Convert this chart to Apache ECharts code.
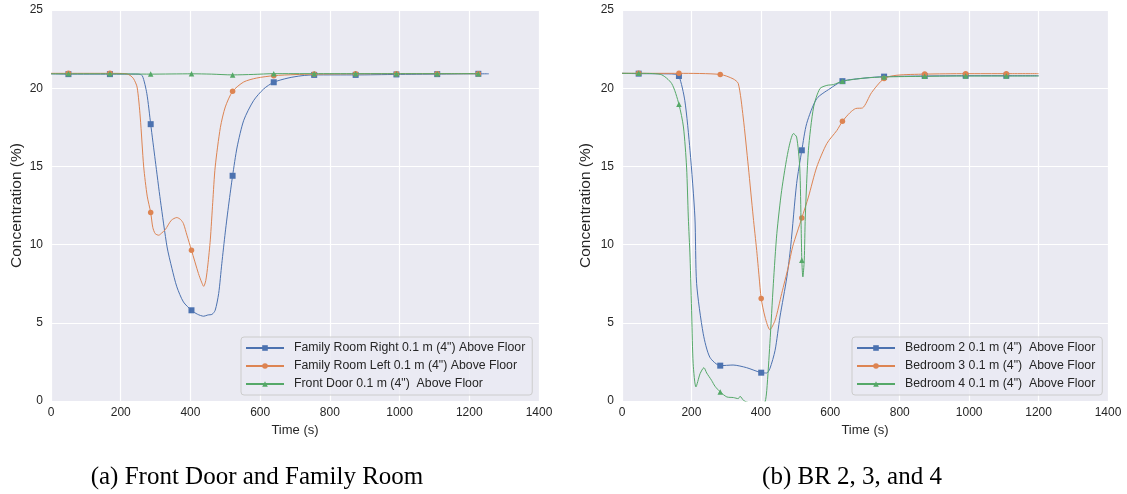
<!DOCTYPE html>
<html>
<head>
<meta charset="utf-8">
<script src="https://cdn.jsdelivr.net/npm/echarts@6/dist/echarts.min.js"></script>
<style>
html,body{margin:0;padding:0;background:#fff;}
#c{width:1127px;height:494px;}
</style>
</head>
<body>
<div id="c"></div>
<script>
// ---------- data ----------
const xTicks = [0, 200, 400, 600, 800, 1000, 1200, 1400];
const yTicks = [0, 5, 10, 15, 20, 25];

const namesA = ['Family Room Right 0.1 m (4") Above Floor', 'Family Room Left 0.1 m (4") Above Floor', 'Front Door 0.1 m (4")  Above Floor'];
const namesB = ['Bedroom 2 0.1 m (4")  Above Floor', 'Bedroom 3 0.1 m (4")  Above Floor', 'Bedroom 4 0.1 m (4")  Above Floor'];

const markersA = [50, 169, 286, 403, 521, 639, 755, 874, 991, 1108, 1226];
const markersB = [48, 164, 283, 401, 518, 635, 755, 872, 990, 1107];

// (a) Family Room Right
const famRight = [[0,20.92],[50,20.9],[169,20.9],[250,20.9],[262,20.8],[275,19.65],[286,17.7],[299,15.4],[314,12.8],[333,9.85],[347,8.47],[361,7.3],[380,6.33],[403,5.8],[420,5.55],[438,5.42],[450,5.5],[462,5.54],[471,5.8],[481,6.87],[490,8.78],[500,10.8],[510,12.6],[521,14.4],[534,16.24],[553,17.95],[581,19.2],[610,19.95],[639,20.38],[680,20.65],[720,20.8],[755,20.85],[874,20.85],[991,20.88],[1108,20.9],[1226,20.92],[1256,20.92]];
// (a) Family Room Left
const famLeft = [[0,20.95],[50,20.95],[169,20.95],[215,20.93],[227,20.82],[237,20.6],[247,20.07],[256,18.16],[266,14.96],[276,13.1],[286,12.05],[292,11.1],[299,10.7],[309,10.6],[318,10.75],[328,10.96],[345,11.55],[361,11.73],[372,11.6],[380,11.34],[390,10.6],[403,9.64],[423,8.15],[432,7.6],[438,7.33],[444,7.7],[450,8.7],[457,10.3],[464,12.7],[471,14.96],[486,17.5],[500,18.8],[521,19.8],[553,20.4],[590,20.65],[639,20.8],[700,20.87],[755,20.9],[874,20.92],[991,20.93],[1108,20.93],[1226,20.93]];
// (a) Front Door
const frontDoor = [[0,20.92],[50,20.92],[169,20.92],[286,20.9],[403,20.92],[460,20.9],[521,20.85],[580,20.88],[639,20.93],[755,20.93],[874,20.93],[991,20.93],[1108,20.93],[1226,20.93]];

// (b) Bedroom 2
const bed2 = [[0,20.95],[48,20.93],[120,20.92],[150,20.9],[164,20.78],[181,19.2],[196,16.0],[210,11.76],[215,7.5],[234,4.3],[253,2.8],[283,2.26],[320,2.3],[359,2.13],[401,1.81],[417,1.79],[426,2.07],[441,3.24],[455,5.37],[475,7.93],[486,9.9],[503,13.9],[518,16.03],[532,17.74],[561,19.33],[599,19.97],[635,20.45],[700,20.65],[755,20.74],[872,20.78],[990,20.8],[1107,20.8],[1200,20.8]];
// (b) Bedroom 3
const bed3 = [[0,20.95],[48,20.95],[164,20.95],[283,20.88],[320,20.6],[335,20.3],[349,18.16],[364,14.96],[378,11.76],[388,9.63],[395,7.93],[401,6.55],[412,5.37],[426,4.56],[441,5.16],[460,6.87],[479,8.57],[492,9.9],[518,11.7],[537,13.04],[561,14.96],[590,16.46],[619,17.3],[635,17.88],[657,18.44],[673,18.7],[693,18.74],[719,19.72],[755,20.62],[792,20.83],[872,20.9],[990,20.93],[1107,20.93],[1200,20.93]];
// (b) Bedroom 4
const bed4 = [[0,20.95],[48,20.95],[110,20.89],[143,20.3],[164,18.97],[177,17.52],[186,14.96],[191,11.76],[196,9.2],[201,5.37],[205,2.39],[213,0.9],[225,1.75],[236,2.13],[244,1.79],[258,1.32],[268,0.94],[283,0.58],[302,0.26],[321,0.22],[335,0.15],[340,0.3],[350,0.04],[359,-0.06],[401,-0.3],[412,-0.06],[417,0.68],[426,3.67],[436,7.5],[446,10.7],[460,13.47],[479,16.03],[494,17.1],[503,16.88],[512,14.96],[516,11.2],[518,9.0],[521,7.93],[525,9.0],[528,11.76],[537,16.03],[552,18.8],[570,19.97],[590,20.18],[609,20.23],[635,20.45],[700,20.65],[755,20.72],[872,20.76],[990,20.78],[1107,20.78],[1200,20.78]];

// ---------- chart ----------
const colors = ['#4C72B0', '#DD8452', '#55A868'];
const symbols = ['rect', 'circle', 'triangle'];
const symSizes = [6, 5.5, 5.5];
const textColor = '#262626';
const fontFam = '"Liberation Sans", Arial, sans-serif';

function mk(points, markers) {
  return points.map(p => markers.indexOf(p[0]) >= 0 ? { value: p } : { value: p, symbol: 'none' });
}

function series(name, pts, markers, i, axis) {
  return {
    type: 'line', name: name, xAxisIndex: axis, yAxisIndex: axis,
    data: mk(pts, markers),
    smooth: 0.25,
    showSymbol: true, symbol: symbols[i], symbolSize: symSizes[i],
    lineStyle: { color: colors[i], width: 1 },
    itemStyle: { color: colors[i] },
    clip: true, animation: false, z: 2 + i
  };
}

const grids = [
  { left: 51, top: 10, width: 488, height: 391 },
  { left: 622, top: 10, width: 486, height: 391 }
].map(g => Object.assign(g, { show: true, backgroundColor: '#EAEAF2', borderWidth: 0 }));

function xAx(i) {
  return {
    type: 'value', gridIndex: i, min: xTicks[0], max: xTicks[xTicks.length - 1], interval: xTicks[1] - xTicks[0],
    name: 'Time (s)', nameLocation: 'middle', nameGap: 22,
    nameTextStyle: { color: textColor, fontSize: 13, fontFamily: fontFam },
    axisLine: { show: false }, axisTick: { show: false },
    axisLabel: { color: textColor, fontSize: 12, fontFamily: fontFam, margin: 6, formatter: v => String(v) },
    splitLine: { show: true, lineStyle: { color: '#ffffff', width: 1.2 } }
  };
}
function yAx(i) {
  return {
    type: 'value', gridIndex: i, min: yTicks[0], max: yTicks[yTicks.length - 1], interval: yTicks[1] - yTicks[0],
    name: 'Concentration (%)', nameLocation: 'middle', nameGap: i === 0 ? 26 : 28, nameRotate: 90,
    nameTextStyle: { color: textColor, fontSize: 15.5, fontFamily: fontFam },
    axisLine: { show: false }, axisTick: { show: false },
    axisLabel: { color: textColor, fontSize: 12, fontFamily: fontFam, margin: 8, formatter: v => String(v) },
    splitLine: { show: true, lineStyle: { color: '#ffffff', width: 1.2 } }
  };
}

function legend(names, left) {
  return {
    data: names, orient: 'vertical', left: left, top: 337,
    itemWidth: 38, itemHeight: 7, itemGap: 4,
    padding: [4, 7, 4, 4],
    backgroundColor: 'rgba(234,234,242,0.8)', borderColor: '#cccccc', borderWidth: 1, borderRadius: 3,
    textStyle: { color: textColor, fontSize: 12.3, lineHeight: 14, fontFamily: fontFam, padding: [0, 0, 0, 5] },
    selectedMode: false
  };
}

const chart = echarts.init(document.getElementById('c'), null, { renderer: 'canvas' });
chart.setOption({
  animation: false,
  backgroundColor: '#ffffff',
  grid: grids,
  xAxis: [xAx(0), xAx(1)],
  yAxis: [yAx(0), yAx(1)],
  legend: [legend(namesA, 241), legend(namesB, 852)],
  series: [
    series(namesA[0], famRight, markersA, 0, 0),
    series(namesA[1], famLeft, markersA, 1, 0),
    series(namesA[2], frontDoor, markersA, 2, 0),
    series(namesB[0], bed2, markersB, 0, 1),
    series(namesB[1], bed3, markersB, 1, 1),
    series(namesB[2], bed4, markersB, 2, 1)
  ],
  graphic: [
    { type: 'text', x: 257, y: 477, style: { text: '(a) Front Door and Family Room', align: 'center', verticalAlign: 'middle', textAlign: 'center', textVerticalAlign: 'middle', font: '25px "Liberation Serif", "Times New Roman", serif', fill: '#000' } },
    { type: 'text', x: 852, y: 477, style: { text: '(b) BR 2, 3, and 4', align: 'center', verticalAlign: 'middle', textAlign: 'center', textVerticalAlign: 'middle', font: '25px "Liberation Serif", "Times New Roman", serif', fill: '#000' } }
  ]
});
</script>
</body>
</html>
